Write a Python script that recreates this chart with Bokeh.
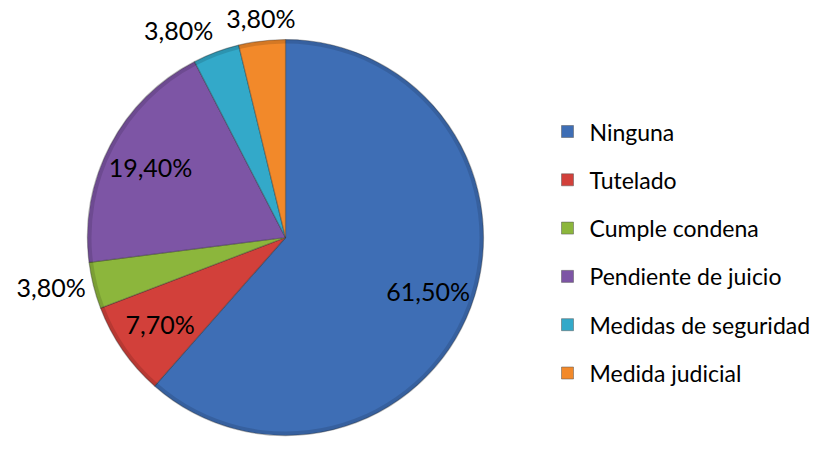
import math
from bokeh.plotting import figure
from bokeh.models import Range1d, ColumnDataSource
from bokeh.core.properties import value
from bokeh.embed import file_html
from bokeh.resources import INLINE

categories = ["Ninguna", "Tutelado", "Cumple condena", "Pendiente de juicio",
              "Medidas de seguridad", "Medida judicial"]
values = [61.5, 7.7, 3.8, 19.4, 3.8, 3.8]
labels = ["61,50%", "7,70%", "3,80%", "19,40%", "3,80%", "3,80%"]
colors = ["#3E6EB5", "#D2403A", "#8CB63C", "#7D55A5", "#33A9C9", "#F2892A"]
outside = [False, False, True, False, True, True]

W, H = 812, 437
p = figure(width=W, height=H, output_backend="svg", toolbar_location=None,
           x_range=Range1d(0, W), y_range=Range1d(0, H), min_border=0)
p.axis.visible = False
p.grid.visible = False
p.outline_line_color = None

cx, cy, r = 285, 200, 198
total = sum(values)
starts, ends = [], []
a = math.pi / 2
for v in values:
    e = a - v / total * 2 * math.pi
    starts.append(e)
    ends.append(a)
    a = e

src = ColumnDataSource(dict(start=starts, end=ends, color=colors))
p.wedge(x=cx, y=cy, radius=r, start_angle="start", end_angle="end",
        fill_color="color", line_color="#2a2a2a", line_alpha=0.35, line_width=1.2,
        source=src)
# subtle bevel rim
p.annular_wedge(x=cx, y=cy, inner_radius=r - 4, outer_radius=r, start_angle="start",
                end_angle="end", fill_color="#000000", fill_alpha=0.12, line_color=None,
                source=src)

font = value("Lato")
for s, e, lab, out in zip(starts, ends, labels, outside):
    m = (s + e) / 2
    c, sn = math.cos(m), math.sin(m)
    if out:
        rr = r * 1.04
        if abs(c) < 0.3:
            align = "center"
        else:
            align = "right" if c < 0 else "left"
        base = "bottom" if sn > 0.3 else ("top" if sn < -0.3 else "middle")
    else:
        rr = r * 0.77
        align, base = "center", "middle"
    p.text(x=[cx + rr * c], y=[cy + rr * sn], text=[lab], text_font=font,
           text_font_size="25px", text_align=align, text_baseline=base,
           text_color="#000000")

lx, ly0, dy = 567, H - 131, 48.3
for i, (cat, col) in enumerate(zip(categories, colors)):
    y = ly0 - i * dy
    p.scatter(x=[lx], y=[y], marker="square", size=12, fill_color=col,
              line_color="#555555", line_alpha=0.5)
    p.text(x=[lx + 22], y=[y], text=[cat], text_font=font, text_font_size="23px",
           text_align="left", text_baseline="middle", text_color="#000000")

open("out.html", "w").write(file_html(p, INLINE))
